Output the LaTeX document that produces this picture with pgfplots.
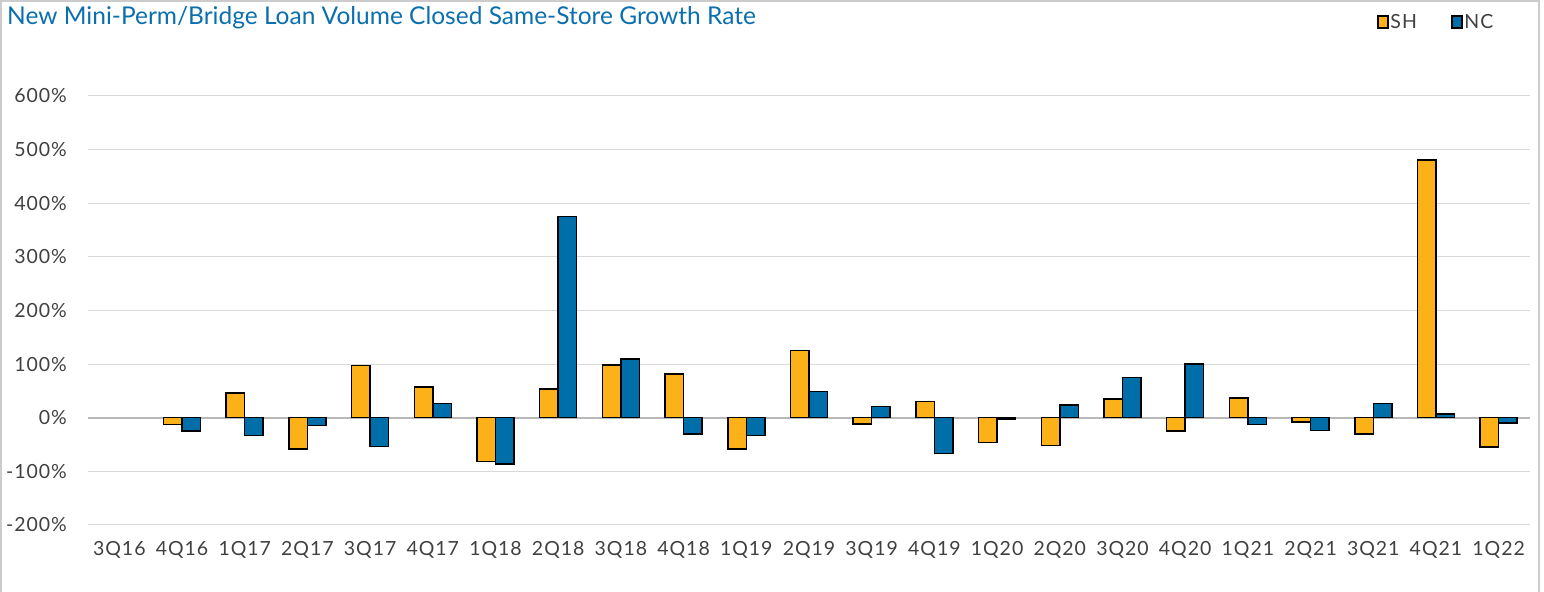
\documentclass[border=0pt]{standalone}
\usepackage{pgfplots}
\pgfplotsset{compat=1.18}
\usepackage{fontspec}
\setmainfont{Lato}
\newfontfamily\tickfont{Lato}[LetterSpace=5]
\definecolor{shc}{HTML}{FBB117}
\definecolor{ncc}{HTML}{006EA8}
\definecolor{titc}{HTML}{0B6FAE}
\definecolor{txt}{HTML}{404040}
\definecolor{gridc}{HTML}{D9D9D9}
\begin{document}
\begin{tikzpicture}[x=1bp,y=1bp]
\useasboundingbox (0,0) rectangle (1544,592);
\draw[color=black!20, line width=1.5bp] (1,0) -- (1,591) -- (1539,591) -- (1539,0);
\node[anchor=west, text=titc, font=\fontsize{24.5bp}{28bp}\selectfont, inner sep=0pt] at (7,574) {New Mini-Perm/Bridge Loan Volume Closed Same-Store Growth Rate};
\begin{axis}[at={(88bp,67bp)}, anchor=south west, scale only axis,
  width=1442bp, height=429bp,
  ymin=-200, ymax=600, xmin=-0.5, xmax=22.5,
  ytick={-200,-100,...,600},
  xtick={0,...,22},
  xticklabels={3Q16,4Q16,1Q17,2Q17,3Q17,4Q17,1Q18,2Q18,3Q18,4Q18,1Q19,2Q19,3Q19,4Q19,1Q20,2Q20,3Q20,4Q20,1Q21,2Q21,3Q21,4Q21,1Q22},
  axis line style={draw=none},
  major tick length=0pt,
  ymajorgrids, grid style={gridc, line width=1bp},
  extra y ticks={0}, extra y tick labels={},
  extra y tick style={grid style={black!28, line width=2bp}},
  yticklabel={\pgfmathprintnumber{\tick}\%},
  /pgf/number format/assume math mode=true,
  ticklabel style={font=\tickfont\fontsize{19.5bp}{22bp}\selectfont, text=txt},
  yticklabel style={anchor=east, inner sep=0pt, xshift=-21bp},
  xticklabel style={anchor=north, inner sep=0pt, yshift=-16bp},
  ybar=0pt, bar width=18.5bp,
  legend style={draw=none, fill=none, at={(0.892,1)}, anchor=west, yshift=74bp,
    legend columns=2, font=\tickfont\fontsize{19.5bp}{22bp}\selectfont, text=txt,
    nodes={inner xsep=1.5bp},
    /tikz/every even column/.append style={column sep=33bp}},
]
\addplot[fill=shc, draw=black, line width=1.5bp,
  legend image code/.code={\draw[fill=shc, draw=black, line width=1.5bp] (0bp,-6bp) rectangle (10bp,6bp);}]
  coordinates {(1,-13)(2,46)(3,-58)(4,97)(5,57)(6,-82)(7,54)(8,98)(9,82)(10,-58)(11,125)(12,-12)(13,30)(14,-46)(15,-52)(16,35)(17,-25)(18,37)(19,-8)(20,-30)(21,481)(22,-55)};
\addlegendentry{SH}
\addplot[fill=ncc, draw=black, line width=1.5bp,
  legend image code/.code={\draw[fill=ncc, draw=black, line width=1.5bp] (0bp,-6bp) rectangle (10bp,6bp);}]
  coordinates {(1,-25)(2,-33)(3,-14)(4,-54)(5,27)(6,-86)(7,375)(8,110)(9,-30)(10,-33)(11,49)(12,21)(13,-67)(14,-2)(15,24)(16,75)(17,100)(18,-13)(19,-24)(20,27)(21,7)(22,-10)};
\addlegendentry{NC}
\end{axis}
\end{tikzpicture}
\end{document}
